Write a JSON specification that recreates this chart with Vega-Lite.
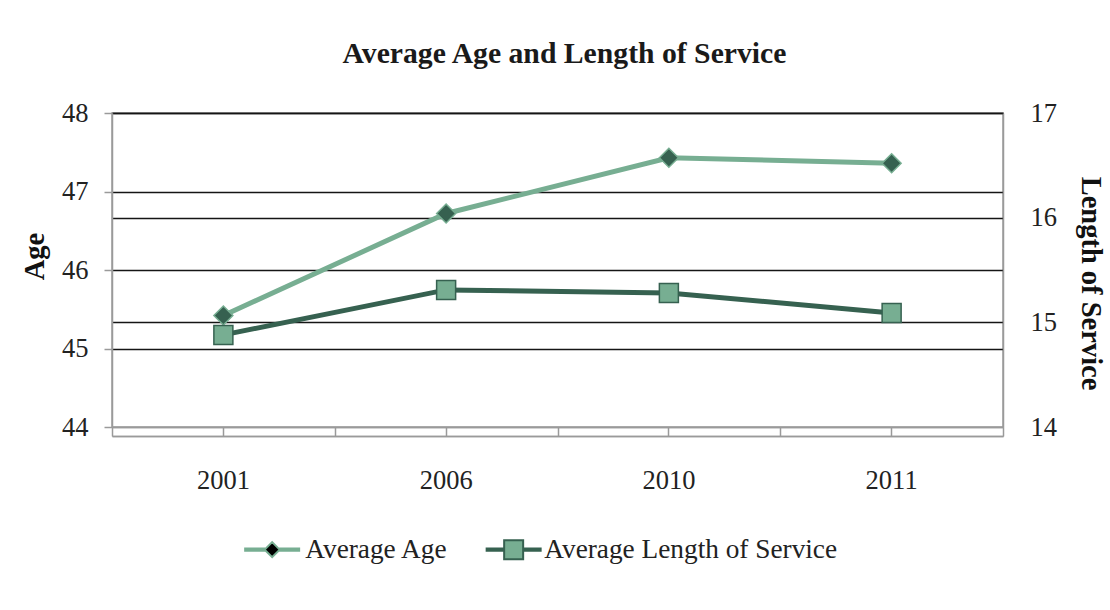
{
  "$schema": "https://vega.github.io/schema/vega-lite/v6.json",
  "width": 891,
  "height": 314,
  "autosize": {"type": "none"},
  "padding": {"left": 112, "top": 113, "right": 107, "bottom": 183},
  "background": "white",
  "title": {
    "text": "Average Age and Length of Service",
    "font": "Liberation Serif",
    "fontSize": 29.7,
    "fontWeight": "bold",
    "color": "#1a1a1a",
    "anchor": "middle",
    "frame": "group",
    "dx": 7,
    "offset": 30
  },
  "data": {
    "values": [
      {"year": "2001", "series": "Average Age", "value": 45.42},
      {"year": "2006", "series": "Average Age", "value": 46.72},
      {"year": "2010", "series": "Average Age", "value": 47.43},
      {"year": "2011", "series": "Average Age", "value": 47.36},
      {"year": "2001", "series": "Average Length of Service", "value": 14.88},
      {"year": "2006", "series": "Average Length of Service", "value": 15.31},
      {"year": "2010", "series": "Average Length of Service", "value": 15.28},
      {"year": "2011", "series": "Average Length of Service", "value": 15.09}
    ]
  },
  "layer": [
    {
      "transform": [{"filter": "datum.series === 'Average Age'"}],
      "encoding": {
        "x": {
          "field": "year",
          "type": "ordinal",
          "scale": {"type": "band", "paddingInner": 0, "paddingOuter": 0},
          "axis": {
            "orient": "bottom",
            "title": null,
            "offset": 9,
            "tickBand": "center",
            "tickSize": -9,
            "labelAngle": 0,
            "labelPadding": 40,
            "grid": false
          }
        },
        "y": {
          "field": "value",
          "type": "quantitative",
          "scale": {"domain": [44, 48], "nice": false, "zero": false},
          "axis": {
            "orient": "left",
            "title": "Age",
            "values": [44, 45, 46, 47, 48],
            "grid": true,
            "gridColor": {"condition": {"test": "datum.value <= 44", "value": "#9a9a9a"}, "value": "#151515"},
            "tickSize": 8,
            "labelPadding": 16,
            "titleAngle": -90,
            "titleX": -78,
            "titleY": 143,
            "titleBaseline": "middle",
            "titleAlign": "center"
          }
        }
      },
      "layer": [
        {
          "mark": {"type": "line", "strokeWidth": 5},
          "encoding": {
            "stroke": {
              "field": "series",
              "type": "nominal",
              "scale": {"domain": ["Average Age", "Average Length of Service"], "range": ["#77ae92", "#366150"]},
              "legend": {
                "orient": "none",
                "legendX": 146.5,
                "legendY": 423,
                "title": null,
                "values": ["Average Age"],
                "symbolType": "M-2.8,-0.12H-0.7M0.7,-0.12H2.8M-2.8,0.12H-0.7M0.7,0.12H2.8M-2.8,0H-0.7M0.7,0H2.8M0,-0.75L0.75,0L0,0.75L-0.75,0Z",
                "symbolFillColor": "#366150",
                "labelOffset": 19.5
              }
            }
          }
        },
        {
          "mark": {"type": "point", "shape": "diamond", "filled": true, "size": 361, "opacity": 1, "strokeWidth": 1.5},
          "encoding": {
            "fill": {
              "field": "series",
              "type": "nominal",
              "scale": {"domain": ["Average Length of Service", "Average Age"], "range": ["#77ae92", "#366150"]},
              "legend": {
                "orient": "none",
                "legendX": 388,
                "legendY": 423,
                "title": null,
                "values": ["Average Length of Service"],
                "symbolType": "M-2.8,-0.12H-0.95M0.95,-0.12H2.8M-2.8,0.12H-0.95M0.95,0.12H2.8M-2.8,0H-0.95M0.95,0H2.8M-0.95,-0.95H0.95V0.95H-0.95Z",
                "symbolStrokeColor": "#366150",
                "labelOffset": 17
              }
            },
            "stroke": {"field": "series", "type": "nominal"}
          }
        }
      ]
    },
    {
      "transform": [{"filter": "datum.series === 'Average Length of Service'"}],
      "encoding": {
        "x": {
          "field": "year",
          "type": "ordinal",
          "scale": {"type": "band", "paddingInner": 0, "paddingOuter": 0},
          "axis": {
            "orient": "bottom",
            "title": null,
            "offset": 9,
            "tickBand": "extent",
            "tickSize": -9,
            "labels": false,
            "grid": false
          }
        },
        "y": {
          "field": "value",
          "type": "quantitative",
          "scale": {"domain": [14, 17], "nice": false, "zero": false},
          "axis": {
            "orient": "right",
            "title": "Length of Service",
            "values": [14, 15, 16, 17],
            "grid": true,
            "gridColor": {"condition": {"test": "datum.value <= 14", "value": "#9a9a9a"}, "value": "#151515"},
            "ticks": false,
            "labelPadding": 27,
            "titleAngle": 90,
            "titleX": 87,
            "titleY": 170,
            "titleBaseline": "middle",
            "titleAlign": "center"
          }
        }
      },
      "layer": [
        {
          "mark": {"type": "line", "strokeWidth": 5},
          "encoding": {"stroke": {"field": "series", "type": "nominal"}}
        },
        {
          "mark": {"type": "point", "shape": "square", "filled": true, "size": 361, "opacity": 1, "strokeWidth": 1.5},
          "encoding": {
            "fill": {"field": "series", "type": "nominal"},
            "stroke": {"field": "series", "type": "nominal"}
          }
        }
      ]
    }
  ],
  "resolve": {"scale": {"y": "independent"}, "axis": {"x": "independent"}},
  "config": {
    "view": {"stroke": "#9a9a9a", "strokeWidth": 1.5},
    "axis": {
      "labelFont": "Liberation Serif",
      "labelFontSize": 26.5,
      "labelColor": "#222222",
      "titleFont": "Liberation Serif",
      "titleFontSize": 28.5,
      "titleFontWeight": "bold",
      "titleColor": "#111111",
      "domainColor": "#9a9a9a",
      "domainWidth": 1.5,
      "tickColor": "#9a9a9a",
      "tickWidth": 1.5,
      "gridWidth": 1.5
    },
    "legend": {
      "labelFont": "Liberation Serif",
      "labelFontSize": 27.3,
      "labelColor": "#222222",
      "symbolSize": 400,
      "symbolStrokeWidth": 2,
      "symbolOpacity": 1,
      "labelLimit": 600
    }
  }
}
